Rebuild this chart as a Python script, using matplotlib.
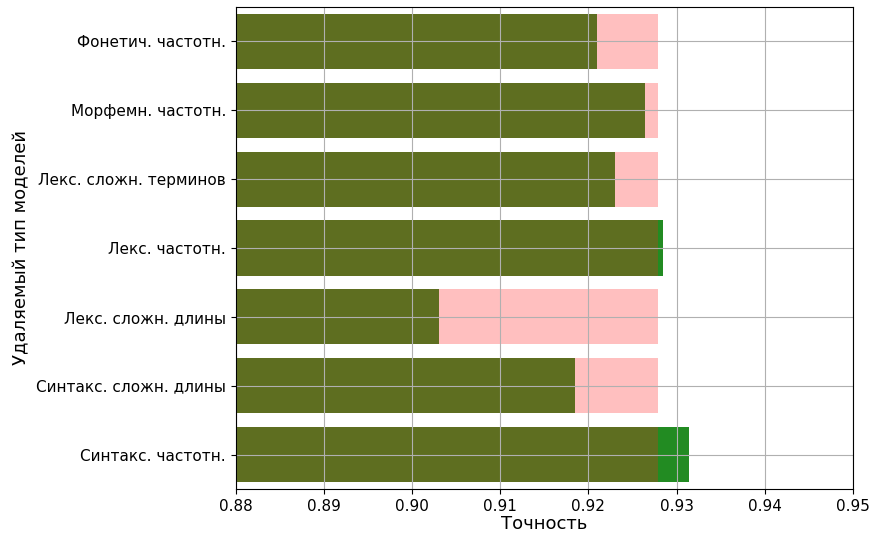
import numpy as np
import matplotlib
matplotlib.use('Agg')
import matplotlib.pyplot as plt

categories = ['Фонетич. частотн.', 'Морфемн. частотн.', 'Лекс. сложн. терминов',
              'Лекс. частотн.', 'Лекс. сложн. длины', 'Синтакс. сложн. длины',
              'Синтакс. частотн.']
accuracy = [0.9210, 0.9264, 0.9230, 0.92845, 0.9030, 0.9185, 0.9314]
baseline = 0.9279


def main():
    fig, ax = plt.subplots(figsize=(8.73, 5.35), dpi=100)
    fig.subplots_adjust(left=0.27, right=0.977, top=0.987, bottom=0.086)
    y = np.arange(len(categories))
    acc = np.array(accuracy)
    ax.barh(y, [baseline] * len(y), height=0.8, color='#ffbfbf')
    ax.barh(y, acc, height=0.8, color='forestgreen')
    ax.barh(y, np.minimum(acc, baseline), height=0.8, color='#5e6e20')
    ax.set_yticks(y)
    ax.set_yticklabels(categories, fontsize=11)
    ax.set_ylim(6.5, -0.5)
    ax.set_xlim(0.88, 0.95)
    ax.set_xticks(np.arange(0.88, 0.951, 0.01))
    ax.set_xticklabels(['%.2f' % v for v in np.arange(0.88, 0.951, 0.01)], fontsize=11)
    ax.grid(True)
    ax.set_xlabel('Точность', fontsize=13, labelpad=1)
    ax.set_ylabel('Удаляемый тип моделей', fontsize=13)
    fig.savefig('out.png')


if __name__ == '__main__':
    main()
